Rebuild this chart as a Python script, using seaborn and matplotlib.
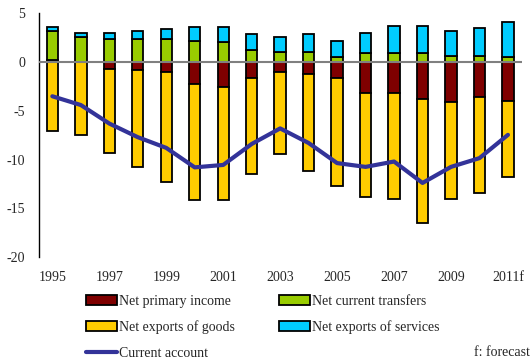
import numpy as np
import pandas as pd
import matplotlib
matplotlib.use("Agg")
import matplotlib.pyplot as plt
import seaborn as sns
from matplotlib.patches import Patch
from matplotlib.lines import Line2D

years = ["1995", "1996", "1997", "1998", "1999", "2000", "2001", "2002", "2003",
         "2004", "2005", "2006", "2007", "2008", "2009", "2010", "2011f"]
tick_labels = ["1995", "1997", "1999", "2001", "2003", "2005", "2007", "2009", "2011f"]

net_primary_income = [0.2, 0.0, -0.7, -0.85, -1.05, -2.2, -2.55, -1.6, -0.97,
                      -1.2, -1.6, -3.2, -3.2, -3.73, -4.14, -3.56, -3.94]
net_current_transfers = [3.0, 2.6, 2.4, 2.4, 2.4, 2.2, 2.05, 1.25, 1.05,
                         1.05, 0.5, 0.92, 0.92, 0.92, 0.65, 0.65, 0.51]
net_exports_goods = [-7.1, -7.5, -8.6, -9.95, -11.25, -12.0, -11.65, -9.9, -8.43,
                     -10.0, -11.1, -10.65, -10.85, -12.8, -9.9, -9.85, -7.8]
net_exports_services = [0.4, 0.4, 0.6, 0.85, 1.0, 1.4, 1.55, 1.65, 1.55,
                        1.8, 1.7, 2.08, 2.83, 2.83, 2.53, 2.9, 3.62]
current_account = [-3.5, -4.4, -6.3, -7.7, -8.8, -10.8, -10.55, -8.4, -6.8,
                   -8.3, -10.36, -10.75, -10.2, -12.4, -10.75, -9.85, -7.46]

c_primary = "#7F0000"
c_transfers = "#99CC00"
c_goods = "#FFCC00"
c_services = "#00CCFF"
c_line = "#333399"

sns.set_style("white")
plt.rcParams["font.family"] = ["Liberation Serif", "DejaVu Serif"]
plt.rcParams["font.size"] = 10

fig = plt.figure(figsize=(5.31, 3.64), dpi=100)
ax = fig.add_axes([0.0734, 0.294, 0.910, 0.669])

pi = np.array(net_primary_income)
tr = np.array(net_current_transfers)
gd = np.array(net_exports_goods)
sv = np.array(net_exports_services)

pi_pos = np.clip(pi, 0, None)
pi_neg = np.clip(pi, None, 0)

df = pd.DataFrame({"year": years})
bw = 0.4
ekw = dict(edgecolor="black", linewidth=1.3)

sns.barplot(x=df["year"], y=pi, bottom=np.zeros(len(years)), color=c_primary,
            width=bw, ax=ax, saturation=1, **ekw)
sns.barplot(x=df["year"], y=tr, bottom=pi_pos, color=c_transfers,
            width=bw, ax=ax, saturation=1, **ekw)
sns.barplot(x=df["year"], y=sv, bottom=pi_pos + tr, color=c_services,
            width=bw, ax=ax, saturation=1, **ekw)
sns.barplot(x=df["year"], y=gd, bottom=pi_neg, color=c_goods,
            width=bw, ax=ax, saturation=1, **ekw)

sns.lineplot(x=np.arange(len(years)), y=current_account, color=c_line,
             linewidth=3, ax=ax, zorder=5)

ax.axhline(0, color="#808080", linewidth=1.5, zorder=3)

ax.set_ylim(-20, 5)
ax.set_xlim(-0.47, len(years) - 0.5)
ax.set_yticks([5, 0, -5, -10, -15, -20])
ax.set_yticklabels(["5", "0", "-5", "-10", "-15", "-20"])
ax.set_xticks([years.index(t) for t in tick_labels])
ax.set_xticklabels(tick_labels)
ax.tick_params(axis="both", length=0, labelsize=10)
ax.tick_params(axis="y", pad=10)
ax.tick_params(axis="x", pad=10)
ax.set_xlabel("")
ax.set_ylabel("")
for s in ["top", "right", "bottom"]:
    ax.spines[s].set_visible(False)
ax.spines["left"].set_color("black")
ax.spines["left"].set_linewidth(1.0)

handles = [
    Patch(facecolor=c_primary, edgecolor="black", linewidth=1.3, label="Net primary income"),
    Patch(facecolor=c_goods, edgecolor="black", linewidth=1.3, label="Net exports of goods"),
    Line2D([0], [0], color=c_line, linewidth=3, label="Current account"),
    Patch(facecolor=c_transfers, edgecolor="black", linewidth=1.3, label="Net current transfers"),
    Patch(facecolor=c_services, edgecolor="black", linewidth=1.3, label="Net exports of services"),
]
fig.legend(handles=handles, ncol=2, loc="upper left",
           bbox_to_anchor=(0.1625, 0.19), frameon=False,
           handlelength=2.2, handletextpad=0.15, columnspacing=3.2,
           labelspacing=0.9, borderaxespad=0, borderpad=0, fontsize=10)

fig.text(0.997, 1 - 352 / 364, "f: forecast", ha="right", va="center", fontsize=10)

fig.savefig("out.png", dpi=100)
